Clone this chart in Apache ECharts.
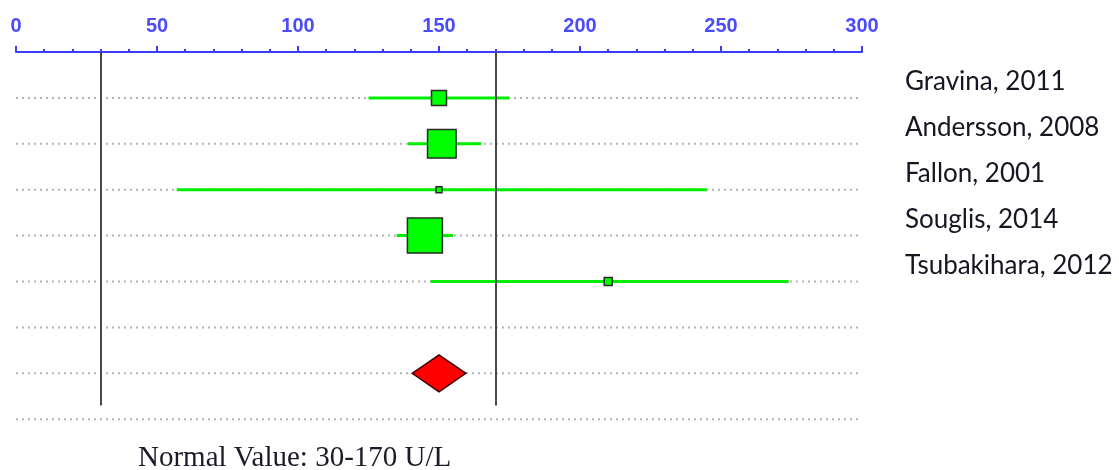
<!DOCTYPE html>
<html>
<head>
<meta charset="utf-8">
<script src="https://cdn.jsdelivr.net/npm/echarts@6/dist/echarts.min.js"></script>
<style>
  html, body { margin: 0; padding: 0; background: #fff; }
  #chart { width: 1119px; height: 470px; }
</style>
</head>
<body>
<div id="chart"></div>
<script>
// Study-level estimates (U/L) with 95% confidence limits and relative weights (%)
const studies = ['Gravina, 2011', 'Andersson, 2008', 'Fallon, 2001', 'Souglis, 2014', 'Tsubakihara, 2012'];
const means   = [150, 151, 150, 145, 210];
const lower   = [125, 139, 57, 135, 147];
const upper   = [175, 165, 245, 155, 274];
const weights = [9.5, 34.5, 1.5, 51.8, 2.7];

// Pooled estimate: [mean, lower, upper]
const pooled = [150, 140.5, 159.5];

// Reference interval (U/L)
const normalRange = [30, 170];
const footnote = 'Normal Value: 30-170 U/L';

// Layout rows: studies on rows 1..5, pooled diamond on row 7, dotted guides on rows 1..8
const studyRows  = [1, 2, 3, 4, 5];
const pooledRow  = 7;
const guideRows  = [1, 2, 3, 4, 5, 6, 7, 8];
const refLineEnd = 7.7;

const studyData = studies.map((s, i) => [studyRows[i], means[i], lower[i], upper[i], weights[i]]);

const chart = echarts.init(document.getElementById('chart'), null, { renderer: 'canvas' });

const blue = '#3c3cff';

chart.setOption({
  animation: false,
  grid: { left: 16, right: 257, top: 52, height: 413.1 },
  xAxis: {
    type: 'value',
    position: 'top',
    min: 0, max: 300, interval: 50,
    axisLine: { show: true, lineStyle: { color: blue, width: 2 } },
    axisTick: { show: true, length: 6, lineStyle: { color: blue, width: 2 } },
    minorTick: { show: true, splitNumber: 5, length: 3, lineStyle: { color: blue, width: 2 } },
    axisLabel: { color: '#4a4aff', fontFamily: 'Liberation Sans', fontSize: 20, fontWeight: 'bold', margin: 16 },
    splitLine: { show: false }
  },
  yAxis: {
    type: 'value', inverse: true, min: 0, max: 9, show: false
  },
  series: [
    {
      // dotted row guides
      type: 'custom',
      z: 1,
      data: guideRows.map(r => [r]),
      renderItem: function (params, api) {
        const r = api.value(0);
        const a = api.coord([0, r]);
        const b = api.coord([300, r]);
        return {
          type: 'line',
          shape: { x1: a[0], y1: a[1], x2: b[0], y2: b[1] },
          style: { stroke: '#b4b4b4', lineWidth: 2, lineDash: [2, 4] }
        };
      }
    },
    {
      // confidence intervals
      type: 'custom',
      z: 2,
      data: studyData,
      renderItem: function (params, api) {
        const r = api.value(0);
        const a = api.coord([api.value(2), r]);
        const b = api.coord([api.value(3), r]);
        return {
          type: 'line',
          shape: { x1: a[0], y1: a[1], x2: b[0], y2: b[1] },
          style: { stroke: '#00ee00', lineWidth: 3 }
        };
      }
    },
    {
      // reference-range boundaries
      type: 'line',
      z: 3,
      data: [],
      markLine: {
        silent: true,
        symbol: 'none',
        label: { show: false },
        lineStyle: { color: '#4a4a4a', width: 2, type: 'solid' },
        data: normalRange.map(v => [{ coord: [v, 0] }, { coord: [v, refLineEnd] }])
      }
    },
    {
      // weighted point estimates and study names
      type: 'custom',
      z: 4,
      data: studyData,
      renderItem: function (params, api) {
        const r = api.value(0);
        const c = api.coord([api.value(1), r]);
        const size = Math.sqrt(api.value(4)) * 4.86;
        const edge = api.coord([300, r]);
        return {
          type: 'group',
          children: [
            {
              type: 'rect',
              shape: { x: c[0] - size / 2, y: c[1] - size / 2, width: size, height: size },
              style: { fill: '#00ff00', stroke: '#2a2a2a', lineWidth: 1.5 }
            },
            {
              type: 'text',
              style: {
                x: edge[0] + 43, y: c[1] - 16,
                text: studies[params.dataIndex],
                fill: '#161622',
                font: '26px Lato',
                verticalAlign: 'middle', align: 'left'
              }
            }
          ]
        };
      }
    },
    {
      // pooled estimate diamond
      type: 'custom',
      z: 4,
      data: [[pooledRow, pooled[0], pooled[1], pooled[2]]],
      renderItem: function (params, api) {
        const r = api.value(0);
        const c = api.coord([api.value(1), r]);
        const l = api.coord([api.value(2), r]);
        const h = api.coord([api.value(3), r]);
        const half = 18.5;
        return {
          type: 'polygon',
          shape: { points: [[l[0], c[1]], [c[0], c[1] - half], [h[0], c[1]], [c[0], c[1] + half]] },
          style: { fill: '#ff0000', stroke: '#3a0000', lineWidth: 1.5 }
        };
      }
    }
  ],
  graphic: [
    {
      type: 'text',
      x: 138, y: 458,
      style: { text: footnote, fill: '#1a1a2a', font: '29px "Liberation Serif"', verticalAlign: 'middle' }
    }
  ]
});
</script>
</body>
</html>
